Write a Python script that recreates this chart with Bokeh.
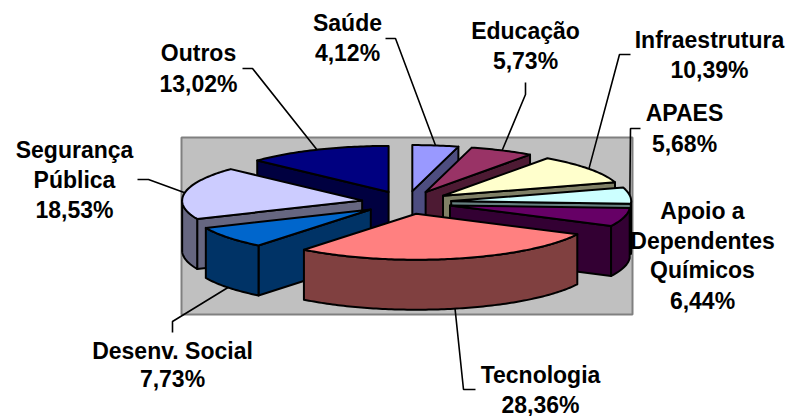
import numpy as np
from bokeh.plotting import figure
from bokeh.models import Range1d, ColumnDataSource
from bokeh.embed import file_html
from bokeh.resources import INLINE
from bokeh.core.properties import value

# ---------------- data ----------------
categories = ["Saúde", "Educação", "Infraestrutura", "APAES",
              "Apoio a\nDependentes\nQuímicos", "Tecnologia",
              "Desenv. Social", "Segurança\nPública", "Outros"]
shares = [4.12, 5.73, 10.39, 5.68, 6.44, 28.36, 7.73, 18.53, 13.02]

# ---------------- style ----------------
top_colors = ["#9999FF", "#993366", "#FFFFCC", "#CCFFFF", "#660066",
              "#FF8080", "#0066CC", "#CCCCFF", "#000080"]
side_colors = ["#4D4D80", "#4D1A33", "#808066", "#668080", "#330033",
               "#804040", "#003366", "#666680", "#000040"]

# pie layout (pixel units)
CX, CY = 406.0, 202.0
RX, RY = 180.0, 46.0
DEPTH = 50.0
EXPLODE = 0.25

# plot area box
AREA = dict(left=181, right=632, top=137, bottom=314)

# label layout: center x, baselines, leader path near text, attach ("top"/"bottom"/None)
TEXT_DY = -8
label_x = [347, 525, 709, 684, 702, 540, 172, 74, 198]
label_base = [[30, 60], [38, 68], [47, 77], [120, 151], [218, 248, 277, 308],
              [382, 412], [358, 386], [157, 187, 217], [60, 91]]
leader_pts = [[(385, 38), (395, 38)], [(525, 82), (525, 94)],
              [(630, 54), (619, 54)], [(640, 128), (630, 128)], None,
              [(475, 389), (463, 389)], [(172, 332), (172, 321)],
              [(137, 179), (148, 179)], [(242, 68), (252, 68)]]
leader_attach = ["top", "top", "top", "top", None, "bottom", "bottom", "top", "top"]

# ---------------- geometry ----------------
n = len(shares)
total = float(sum(shares))
cum = np.concatenate([[0.0], np.cumsum(shares)]) / total * 360.0
a0s, a1s = cum[:-1], cum[1:]
mids = (a0s + a1s) / 2.0


def pt(i, ang, r=1.0, dz=0.0):
    m = np.radians(mids[i])
    ox = EXPLODE * RX * np.sin(m)
    oy = -EXPLODE * RY * np.cos(m)
    t = np.radians(ang)
    return (CX + ox + RX * r * np.sin(t), CY + oy - RY * r * np.cos(t) + dz)


def arc(i, s, e, dz=0.0):
    k = max(3, int(abs(e - s)) + 2)
    angs = np.linspace(s, e, k)
    return [pt(i, a, 1.0, dz) for a in angs]


xs, ys, fills = [], [], []


def add(poly, color):
    xs.append([p[0] for p in poly])
    ys.append([p[1] for p in poly])
    fills.append(color)


order = sorted(range(n), key=lambda i: -np.cos(np.radians(mids[i])))
for i in order:
    a0, a1 = a0s[i], a1s[i]
    tip = pt(i, 0, 0.0)
    tipb = pt(i, 0, 0.0, DEPTH)
    # radial faces
    if np.sin(np.radians(a0)) < -1e-6:
        add([tip, pt(i, a0), pt(i, a0, 1, DEPTH), tipb], side_colors[i])
    if np.sin(np.radians(a1)) > 1e-6:
        add([tip, pt(i, a1), pt(i, a1, 1, DEPTH), tipb], side_colors[i])
    # outer wall (front half)
    s, e = max(a0, 90.0), min(a1, 270.0)
    if e > s:
        top = arc(i, s, e)
        bot = arc(i, e, s, DEPTH)
        add(top + bot, side_colors[i])
    # top face
    add([tip] + arc(i, a0, a1), top_colors[i])

# ---------------- figure ----------------
p = figure(width=787, height=416, x_range=Range1d(0, 787), y_range=Range1d(416, 0),
           output_backend="svg", toolbar_location=None, min_border=0)
p.axis.visible = False
p.grid.visible = False
p.outline_line_color = None
p.background_fill_color = "white"
p.border_fill_color = "white"

p.quad(left=[AREA["left"]], right=[AREA["right"]], top=[AREA["top"]], bottom=[AREA["bottom"]],
       fill_color="#C0C0C0", line_color="#808080", line_width=2)

src = ColumnDataSource(dict(xs=xs, ys=ys, fill=fills))
p.patches("xs", "ys", source=src, fill_color="fill", line_color="black",
          line_width=2, line_join="round")

# leaders
for i in range(n):
    if leader_pts[i] is None:
        continue
    m = mids[i]
    dz = DEPTH if leader_attach[i] == "bottom" else 0.0
    end = pt(i, m, 1.0, dz)
    path = list(leader_pts[i]) + [end]
    p.line([q[0] for q in path], [q[1] for q in path], line_color="black", line_width=1.6)

# labels
tx, ty, tt = [], [], []
for i in range(n):
    lines = categories[i].split("\n") + [f"{shares[i]:.2f}%".replace(".", ",")]
    for line, b in zip(lines, label_base[i]):
        tx.append(label_x[i])
        ty.append(b + TEXT_DY)
        tt.append(line)
p.text(x=tx, y=ty, text=tt, text_align="center", text_baseline="alphabetic",
       text_font=value("Liberation Sans"), text_font_style="bold",
       text_font_size="23px", text_color="black")

open("out.html", "w").write(file_html(p, INLINE))
